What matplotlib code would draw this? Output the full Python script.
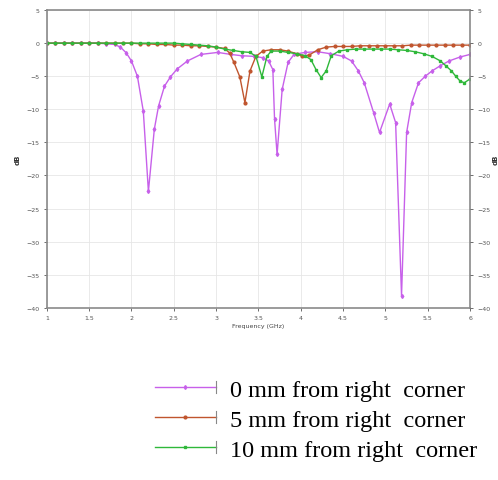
import numpy as np
import matplotlib.pyplot as plt
from matplotlib.lines import Line2D
from matplotlib.legend_handler import HandlerLine2D

# 0 mm from right corner
f_0mm = [1.0, 1.1, 1.2, 1.3, 1.4, 1.5, 1.6, 1.7, 1.8, 1.87, 1.94, 2.0, 2.07, 2.14,
         2.2, 2.27, 2.32, 2.39, 2.46, 2.54, 2.66, 2.82, 3.02, 3.17, 3.3, 3.45,
         3.55, 3.62, 3.67, 3.69, 3.72, 3.78, 3.85, 3.92, 4.05, 4.2, 4.35, 4.5,
         4.6, 4.68, 4.75, 4.86, 4.93, 5.05, 5.12, 5.19, 5.25, 5.31, 5.39, 5.47,
         5.55, 5.65, 5.75, 5.88, 6.0]
s_0mm = [0, 0, 0, 0, 0, 0, 0, -0.1, -0.2, -0.6, -1.5, -2.7, -5.0, -10.3,
         -22.4, -13.0, -9.5, -6.5, -5.1, -3.9, -2.7, -1.7, -1.4, -1.7, -1.9, -2.0,
         -2.2, -2.7, -4.0, -11.5, -16.8, -7.0, -2.9, -1.7, -1.4, -1.3, -1.6, -2.0,
         -2.7, -4.2, -6.0, -10.5, -13.5, -9.2, -12.0, -38.2, -13.5, -9.0, -6.0, -5.0,
         -4.2, -3.4, -2.7, -2.1, -1.7]

# 5 mm from right corner
f_5mm = [1.0, 1.1, 1.2, 1.3, 1.4, 1.5, 1.6, 1.7, 1.8, 1.9, 2.0, 2.1, 2.2, 2.3,
         2.4, 2.5, 2.6, 2.7, 2.8, 2.9, 3.0, 3.1, 3.16, 3.21, 3.28, 3.34, 3.4,
         3.47, 3.55, 3.65, 3.75, 3.85, 3.95, 4.02, 4.1, 4.2, 4.3, 4.4, 4.5, 4.6,
         4.7, 4.8, 4.9, 5.0, 5.1, 5.2, 5.3, 5.4, 5.5, 5.6, 5.7, 5.8, 5.9, 6.0]
s_5mm = [0, 0, 0, 0, 0, 0, 0, 0, 0, 0, 0, -0.1, -0.1, -0.2,
         -0.2, -0.3, -0.3, -0.4, -0.4, -0.5, -0.6, -0.8, -1.5, -2.9, -5.1, -9.0, -4.2,
         -2.0, -1.2, -1.0, -1.0, -1.2, -1.6, -2.0, -1.8, -1.0, -0.6, -0.5, -0.5, -0.5,
         -0.4, -0.4, -0.4, -0.4, -0.4, -0.4, -0.3, -0.3, -0.3, -0.3, -0.3, -0.3, -0.3, -0.3]

# 10 mm from right corner
f_10mm = [1.0, 1.1, 1.2, 1.3, 1.4, 1.5, 1.6, 1.7, 1.8, 1.9, 2.0, 2.1, 2.2, 2.3,
          2.4, 2.5, 2.6, 2.7, 2.8, 2.9, 3.0, 3.1, 3.2, 3.3, 3.4, 3.47, 3.54, 3.6,
          3.65, 3.75, 3.85, 3.95, 4.05, 4.12, 4.18, 4.24, 4.3, 4.36, 4.45, 4.55,
          4.65, 4.75, 4.85, 4.95, 5.05, 5.15, 5.25, 5.35, 5.45, 5.55, 5.65, 5.72,
          5.78, 5.83, 5.88, 5.93, 6.0]
s_10mm = [0, 0, 0, 0, 0, 0, 0, 0, 0, 0, 0, 0, 0, 0,
          0, 0, -0.1, -0.2, -0.3, -0.4, -0.6, -0.9, -1.1, -1.3, -1.4, -2.0, -5.1, -2.0,
          -1.2, -1.2, -1.4, -1.6, -1.9, -2.5, -4.0, -5.2, -4.2, -1.9, -1.2, -1.0,
          -0.9, -0.9, -0.9, -0.9, -0.9, -1.0, -1.1, -1.3, -1.6, -2.0, -2.7, -3.5,
          -4.2, -5.0, -5.7, -6.0, -5.4]

labels = ['0 mm from right  corner', '5 mm from right  corner', '10 mm from right  corner']
colors = ['#c760ea', '#c0552e', '#2fb83a']
markers = ['d', 'o', 's']

xticks = [1, 1.5, 2, 2.5, 3, 3.5, 4, 4.5, 5, 5.5, 6]
yticks = [5, 0, -5, -10, -15, -20, -25, -30, -35, -40]


class CapHandler(HandlerLine2D):
    # legend line with a small vertical bar at its right end
    def create_artists(self, legend, orig, xdescent, ydescent, width, height,
                       fontsize, trans):
        arts = super().create_artists(legend, orig, xdescent, ydescent, width,
                                      height, fontsize, trans)
        x1 = width - xdescent
        yc = height / 2 - ydescent
        cap = Line2D([x1, x1], [yc - height * 0.35, yc + height * 0.35],
                     color='#888888', lw=0.8, transform=trans)
        return list(arts) + [cap]


fig = plt.figure(figsize=(4.98, 4.81), dpi=100)
ax = fig.add_axes([0.094, 0.358, 0.85, 0.619])

handles = []
for f, s, c, m, lab in zip([f_0mm, f_5mm, f_10mm], [s_0mm, s_5mm, s_10mm],
                           colors, markers, labels):
    h, = ax.plot(f, s, color=c, lw=1.0, marker=m, ms=2.0, mec=c, mfc=c, label=lab)
    handles.append(h)

ax.set_xlim(1, 6)
ax.set_ylim(-40, 5)
ax.set_xticks(xticks)
ax.set_xticklabels([f'{t:g}' for t in xticks])
ax.set_yticks(yticks)
ax.grid(True, color='#e6e6e6', lw=0.6)
ax.tick_params(labelsize=4.5, colors='#555555', length=2, width=0.6)
for sp in ax.spines.values():
    sp.set_color('#8a8a8a')
    sp.set_linewidth(1.2)
ax.set_xlabel('Frequency (GHz)', fontsize=4.5, color='#444444', labelpad=2)
ax.set_ylabel('dB', fontsize=5, color='#333333', fontweight='bold', labelpad=4)

ax2 = ax.twinx()
ax2.set_ylim(-40, 5)
ax2.set_yticks(yticks)
ax2.tick_params(labelsize=4.5, colors='#555555', length=2, width=0.6)
for sp in ax2.spines.values():
    sp.set_visible(False)
ax2.set_ylabel('dB', fontsize=5, color='#333333', fontweight='bold', labelpad=1)

fig.legend(handles=handles, loc='center left', bbox_to_anchor=(0.311, 0.125),
           frameon=False, numpoints=1, handlelength=2.5, handletextpad=0.6,
           labelspacing=0.33, borderpad=0, borderaxespad=0,
           handler_map={h: CapHandler() for h in handles},
           prop={'family': 'Liberation Serif', 'size': 17.5})

fig.savefig('out.png', dpi=100)
